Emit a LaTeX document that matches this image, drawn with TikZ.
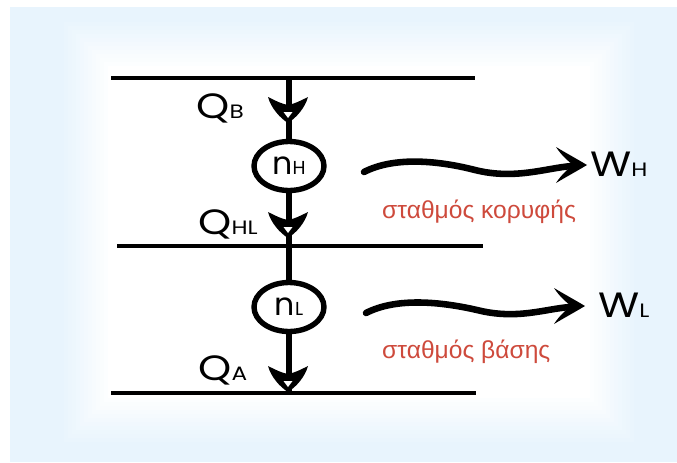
\documentclass[tikz,border=0pt]{standalone}
\usepackage{fontspec}
\setmainfont{Liberation Sans}
\newfontfamily\geo{Poppins}
\usetikzlibrary{shapes.geometric}
\definecolor{bgblue}{RGB}{232,244,253}
\definecolor{stationred}{RGB}{206,74,60}

% big letter followed by a smaller index letter on the same baseline
\newcommand{\biglab}[2]{{\geo\fontsize{30}{30}\selectfont #1}{\geo\fontsize{16.5}{16.5}\selectfont #2}}
\newcommand{\engtext}[2]{{\geo\fontsize{27}{27}\selectfont #1}{\geo\fontsize{16}{16}\selectfont #2}}

\tikzset{
  level/.style={line width=3.6pt},
  shaft/.style={line width=4.8pt},
  engine/.style={ellipse, draw, fill=white, line width=4.6pt,
    minimum width=21mm, minimum height=14.7mm, inner sep=0pt},
  label/.style={anchor=base west, inner sep=0pt, xscale=1.2},
  station/.style={anchor=west, inner sep=0pt, text=stationred,
    font=\fontsize{21}{21}\selectfont},
  wave/.style={line width=5.6pt, line cap=round},
  % heat flow head on the vertical line, tip at the origin
  qhead/.pic={
    \fill[black] (0,0) .. controls (-8,-5) and (-17,-15) .. (-20,-26)
      .. controls (-12,-22) and (-6,-19) .. (0,-18)
      .. controls (6,-19) and (12,-22) .. (20,-26)
      .. controls (17,-15) and (8,-5) .. (0,0) -- cycle;
    \fill[white] (-4.5,-11) -- (4.5,-11) -- (0,-5) -- cycle;
  },
  % work output head, pointing to the right, tip at the origin
  whead/.pic={
    \fill[black] (0,0) .. controls (-10,-6) and (-21,-12) .. (-31,-18)
      .. controls (-25,-9) and (-20,-5) .. (-14,0)
      .. controls (-20,5) and (-25,9) .. (-31,18)
      .. controls (-21,12) and (-10,6) .. (0,0) -- cycle;
  }
}

\begin{document}
\begin{tikzpicture}[x=0.3mm,y=-0.3mm]
\useasboundingbox (0,0) rectangle (677,462);

% backdrop: pale blue card with a softly fading white centre
\fill[white] (0,0) rectangle (677,462);
\fill[bgblue] (10,7) rectangle (677,462);
\foreach \i in {0,...,11} {
  \pgfmathtruncatemacro\d{44-4*\i}
  \pgfmathtruncatemacro\p{8*\i+8}
  \fill[white!\p!bgblue] (108-\d,66-\d) rectangle (590+\d,398+\d);
}
\fill[white] (108,66) rectangle (590,398);

% temperature levels
\coordinate (t1) at (111,78);  \coordinate (t2) at (475,78);
\coordinate (m1) at (117,246); \coordinate (m2) at (483,246);
\coordinate (b1) at (111,393); \coordinate (b2) at (476,393);
\draw[level] (t1) -- (t2);
\draw[level] (m1) -- (m2);
\draw[level] (b1) -- (b2);

% engines on the heat path
\coordinate (vtop) at (289,78);
\coordinate (vbot) at (289,393);
\node[engine] (nH) at (289,166) {\engtext{n}{H}};
\node[engine] (nL) at (289,307) {\engtext{n}{L}};
\draw[shaft] (vtop) -- (nH);
\draw[shaft] (nH) -- (nL);
\draw[shaft] (nL) -- (vbot);

\pic at (288,123) {qhead};
\pic at (288,238) {qhead};
\pic at (288,392) {qhead};

% heat labels
\node[label] (lQB)  at (196,118) {\biglab{Q}{B}};
\node[label] (lQHL) at (198,234) {\biglab{Q}{HL}};
\node[label] (lQA)  at (198,380) {\biglab{Q}{A}};

% work output
\coordinate (wH0) at (364,172); \coordinate (wH1) at (572,166);
\coordinate (wL0) at (366,313); \coordinate (wL1) at (570,307);
\draw[wave] (wH0) .. controls (395,156) and (440,161) .. (475,170)
  .. controls (515,180) and (546,168) .. (wH1);
\draw[wave] (wL0) .. controls (397,297) and (442,302) .. (477,310)
  .. controls (517,320) and (544,309) .. (wL1);
\pic at (587,165) {whead};
\pic at (585,306) {whead};

\node[label] (lWH) at (590,176) {\biglab{W}{H}};
\node[label] (lWL) at (598,317) {\biglab{W}{L}};

% station names
\node[station] (sH) at (382,212) {σταθμός κορυφής};
\node[station] (sL) at (382,352) {σταθμός βάσης};
\end{tikzpicture}
\end{document}
